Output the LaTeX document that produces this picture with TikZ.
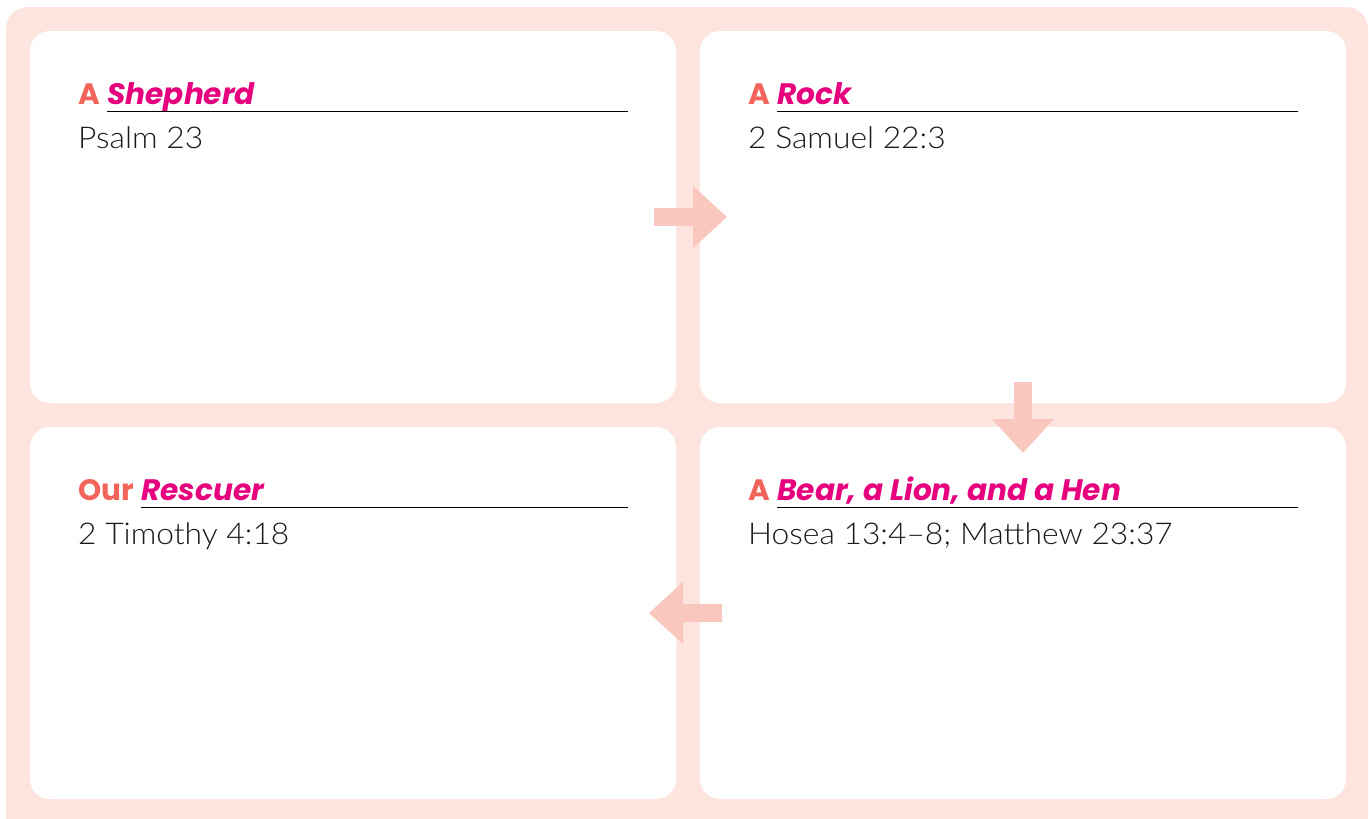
\documentclass[tikz,border=0pt]{standalone}
\usepackage{fontspec}
\setmainfont{Lato}
\newfontfamily\lightfont[FakeStretch=1.06]{Lato Light}
\newfontfamily\headfont{Poppins}
\usetikzlibrary{positioning,arrows.meta}
\definecolor{framebg}{HTML}{FDE4DF}
\definecolor{arrowfill}{HTML}{FAC7BE}
\definecolor{kickercol}{HTML}{F2635A}
\definecolor{titlecol}{HTML}{E6007E}
\definecolor{refcol}{HTML}{1A1A1A}

\begin{document}
\begin{tikzpicture}[
    x=1pt, y=-1pt,
    node distance=24pt,
    panel/.style={rectangle, rounded corners=20pt, fill=white, minimum width=646pt, minimum height=372pt, inner sep=0pt, outer sep=0pt},
    kicker/.style={anchor=base west, inner sep=0pt, text=kickercol, font=\headfont\fontsize{29.5}{32}\selectfont\bfseries},
    title/.style={anchor=base west, inner sep=0pt, text=titlecol, font=\headfont\fontsize{29.6}{32}\selectfont\bfseries\itshape},
    ref/.style={anchor=base west, inner sep=0pt, text=refcol, font=\lightfont\fontsize{30}{34}\selectfont},
    rule/.style={draw=black, line width=1pt},
    bigarrow/.style={draw=arrowfill, line width=18pt, -{Triangle[width=62pt, length=34pt, line width=0pt]}}
]
    \useasboundingbox (0,0) rectangle (1369,819);
    \fill[framebg, rounded corners=22pt] (6,7) rectangle (1368,840);

    % the four panels
    \node[panel] (tl) at (353,217) {};
    \node[panel, right=of tl] (tr) {};
    \node[panel, below=of tl] (bl) {};
    \node[panel, right=of bl] (br) {};

    % Panel 1: A Shepherd
    \node[kicker] (shepA) at (78,104) {A};
    \node[title] (shepT) at ([xshift=7pt]shepA.base east) {Shepherd};
    \coordinate (shepEnd) at (628,111);
    \draw[rule] ([yshift=-7pt]shepT.base west) -- (shepEnd);
    \node[ref] (shepR) at (78,148) {Psalm 23};

    % Panel 2: A Rock
    \node[kicker] (rockA) at (748,104) {A};
    \node[title] (rockT) at ([xshift=7pt]rockA.base east) {Rock};
    \coordinate (rockEnd) at (1298,111);
    \draw[rule] ([yshift=-7pt]rockT.base west) -- (rockEnd);
    \node[ref] (rockR) at (748,148) {2 Samuel 22:3};

    % Panel 3: A Bear, a Lion, and a Hen
    \node[kicker] (bearA) at (748,500) {A};
    \node[title] (bearT) at ([xshift=7pt]bearA.base east) {Bear, a Lion, and a Hen};
    \coordinate (bearEnd) at (1298,507);
    \draw[rule] ([yshift=-7pt]bearT.base west) -- (bearEnd);
    \node[ref] (bearR) at (748,544) {Hosea 13:4–8; Matthew 23:37};

    % Panel 4: Our Rescuer
    \node[kicker] (rescA) at (78,500) {Our};
    \node[title] (rescT) at ([xshift=7pt]rescA.base east) {Rescuer};
    \coordinate (rescEnd) at (628,507);
    \draw[rule] ([yshift=-7pt]rescT.base west) -- (rescEnd);
    \node[ref] (rescR) at (78,544) {2 Timothy 4:18};

    % arrows between panels
    \draw[bigarrow] ([xshift=-22pt]tl.east) -- ([xshift=27pt]tr.west);
    \draw[bigarrow] ([yshift=21pt]tr.south) -- ([yshift=-26pt]br.north);
    \draw[bigarrow] ([xshift=22pt]br.west) -- ([xshift=-27pt]bl.east);

\end{tikzpicture}
\end{document}
